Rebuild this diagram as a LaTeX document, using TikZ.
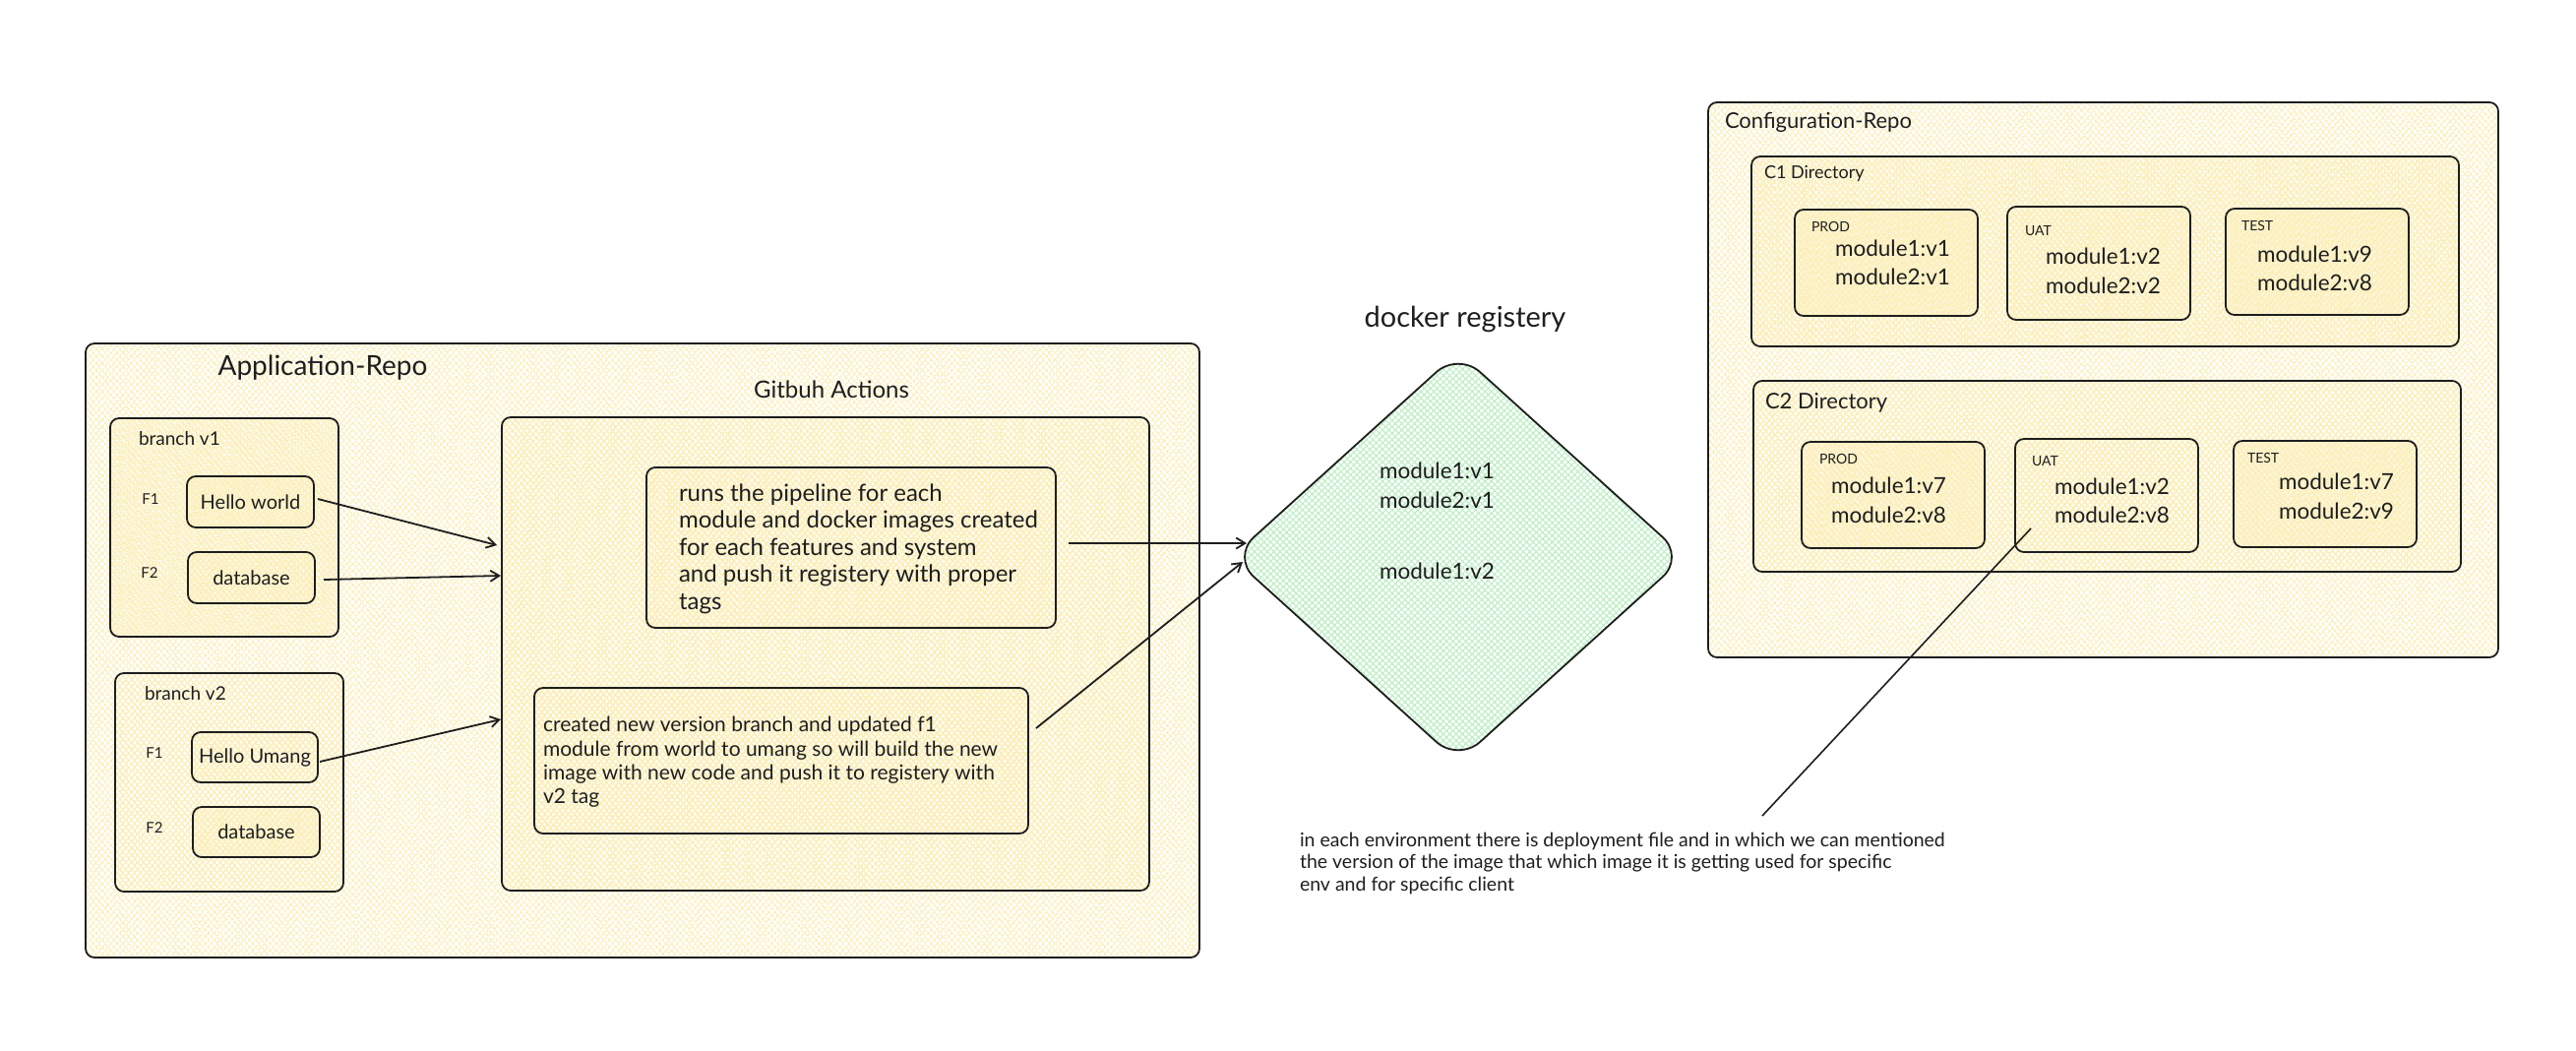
\documentclass[tikz,border=0pt]{standalone}
\usepackage{fontspec}
\setmainfont{Lato}
\usetikzlibrary{arrows.meta,patterns.meta,shapes.geometric}
\definecolor{ink}{HTML}{1E1E1E}
\definecolor{yh}{HTML}{FCEDB0}
\definecolor{gnh}{HTML}{BDEFC4}
\newcommand{\fsz}[2]{\fontsize{#1}{#2}\selectfont}
\begin{document}
\begin{tikzpicture}[x=1pt,y=-1pt,
  yhatch/.style={preaction={pattern={Lines[angle=50,distance=5.4pt,line width=1.3pt]},pattern color=yh},
                 preaction={pattern={Lines[angle=-50,distance=5.4pt,line width=1.3pt]},pattern color=yh}},
  ybox/.style={draw=ink, line width=1.8pt, rounded corners=9pt, inner sep=0pt, outer sep=0pt, text=ink, yhatch},
  lbl/.style={inner sep=0pt, outer sep=0pt, text=ink},
  ml/.style={lbl, align=left, anchor=north west},
  arr/.style={draw=ink, line width=1.8pt, -{Straight Barb[length=9pt,width=11pt]}},
  ln/.style={draw=ink, line width=1.6pt}]
\fill[white] (0,0) rectangle (2618,1068);
\useasboundingbox (0,0) rectangle (2618,1068);

% Application repo
\node[ybox, minimum width=1132pt, minimum height=624pt] (app) at (653,661) {};
\node[lbl, font=\fsz{28}{34}, anchor=mid] (appT) at (328,379) {Application-Repo};

\node[ybox, minimum width=232pt, minimum height=222pt] (bv1) at (228,536) {};
\node[lbl, font=\fsz{19}{23}, anchor=mid west] (bv1T) at (141,450) {branch v1};
\node[lbl, font=\fsz{15}{18}, anchor=mid] (f1a) at (153,510) {F1};
\node[lbl, font=\fsz{15}{18}, anchor=mid] (f2a) at (152,585) {F2};
\node[ybox, minimum width=129pt, minimum height=52pt, font=\fsz{20}{24}] (hw) at (254.5,510) {Hello world};
\node[ybox, minimum width=129pt, minimum height=52pt, font=\fsz{20}{24}] (db1) at (255.5,587) {database};

\node[ybox, minimum width=232pt, minimum height=222pt] (bv2) at (233,795) {};
\node[lbl, font=\fsz{19}{23}, anchor=mid west] (bv2T) at (147,709) {branch v2};
\node[lbl, font=\fsz{15}{18}, anchor=mid] (f1b) at (157,768) {F1};
\node[lbl, font=\fsz{15}{18}, anchor=mid] (f2b) at (157,844) {F2};
\node[ybox, minimum width=128pt, minimum height=51pt, font=\fsz{20}{24}] (hu) at (259,769.5) {Hello Umang};
\node[ybox, minimum width=129pt, minimum height=51pt, font=\fsz{20}{24}] (db2) at (260.5,845.5) {database};

% Github actions
\node[lbl, font=\fsz{24}{29}, anchor=mid] (ghT) at (845,402) {Gitbuh Actions};
\node[ybox, minimum width=658pt, minimum height=481pt] (gh) at (839,664.5) {};
\node[ybox, minimum width=416pt, minimum height=163pt] (pipe) at (865,556.5) {};
\node[ml, font=\fsz{24}{27.5}] (pipeT) at (690,490.2) {\strut runs the pipeline for each\\module and docker images created\\for each features and system\\and push it registery with proper\\tags};
\node[ybox, minimum width=502pt, minimum height=148pt] (cr) at (794,773) {};
\node[ml, font=\fsz{21}{24.3}] (crT) at (552,726.7) {\strut created new version branch and updated f1\\module from world to umang so will build the new\\image with new code and push it to registery with\\v2 tag};

% Registry
\node[lbl, font=\fsz{29}{35}, anchor=mid] (regT) at (1489,330) {docker registery};
\node[diamond, draw=ink, line width=1.8pt, rounded corners=30pt, minimum width=460pt, minimum height=416pt, inner sep=0pt, outer sep=0pt,
  preaction={pattern={Lines[angle=45,distance=4.6pt,line width=1.1pt]},pattern color=gnh},
  preaction={pattern={Lines[angle=-45,distance=4.6pt,line width=1.1pt]},pattern color=gnh}] (reg) at (1482,566) {};
\node[ml, font=\fsz{22.5}{30}] (regA) at (1402,465) {\strut module1:v1\\module2:v1};
\node[lbl, font=\fsz{22.5}{30}, anchor=mid west] (regB) at (1402,586) {module1:v2};

% Arrows
\draw[arr] ([shift={(4pt,3pt)}]hw.east) -- ([shift={(-5pt,110.5pt)}]gh.west);
\draw[arr] ([shift={(9pt,-2pt)}]db1.east) -- ([shift={(-1pt,79.5pt)}]gh.west);
\draw[arr] ([shift={(2pt,-4.5pt)}]hu.east) -- ([shift={(-1pt,-66.5pt)}]gh.west);
\draw[arr] ([shift={(13pt,4.5pt)}]pipe.east) -- ([shift={(15pt,14pt)}]reg.west);
\draw[arr] ([shift={(8pt,33pt)}]cr.east) -- ([shift={(11pt,-5pt)}]reg.west);

% Configuration repo
\node[ybox, minimum width=803pt, minimum height=564pt] (cfg) at (2137.5,386) {};
\node[lbl, font=\fsz{22}{26}, anchor=mid west] (cfgT) at (1753,128) {Configuration-Repo};

\node[ybox, minimum width=719pt, minimum height=193pt] (c1) at (2139.5,255.5) {};
\node[lbl, font=\fsz{18}{22}, anchor=mid west] (c1T) at (1793,179) {C1 Directory};
\node[ybox, minimum width=186pt, minimum height=108pt] (p1) at (1917,267) {};
\node[lbl, font=\fsz{14}{17}, anchor=mid west] (p1T) at (1841,233) {PROD};
\node[ml, font=\fsz{22.5}{29}] (p1M) at (1865,240.6) {\strut module1:v1\\module2:v1};
\node[ybox, minimum width=186pt, minimum height=115pt] (u1) at (2133,267.5) {};
\node[lbl, font=\fsz{14}{17}, anchor=mid west] (u1T) at (2058,237) {UAT};
\node[ml, font=\fsz{22.5}{30}] (u1M) at (2079,247.9) {\strut module1:v2\\module2:v2};
\node[ybox, minimum width=186pt, minimum height=108pt] (t1) at (2355,266) {};
\node[lbl, font=\fsz{14}{17}, anchor=mid west] (t1T) at (2278,232) {TEST};
\node[ml, font=\fsz{22.5}{29}] (t1M) at (2294,246.6) {\strut module1:v9\\module2:v8};

\node[ybox, minimum width=719pt, minimum height=194pt] (c2) at (2141.5,484) {};
\node[lbl, font=\fsz{22}{26}, anchor=mid west] (c2T) at (1794,413) {C2 Directory};
\node[ybox, minimum width=186pt, minimum height=108pt] (p2) at (1924,503) {};
\node[lbl, font=\fsz{14}{17}, anchor=mid west] (p2T) at (1849,469) {PROD};
\node[ml, font=\fsz{22.5}{30}] (p2M) at (1861,480.9) {\strut module1:v7\\module2:v8};
\node[ybox, minimum width=186pt, minimum height=115pt] (u2) at (2141,503.5) {};
\node[lbl, font=\fsz{14}{17}, anchor=mid west] (u2T) at (2065,471) {UAT};
\node[ml, font=\fsz{22.5}{29}] (u2M) at (2088,482.6) {\strut module1:v2\\module2:v8};
\node[ybox, minimum width=186pt, minimum height=108pt] (t2) at (2363,502) {};
\node[lbl, font=\fsz{14}{17}, anchor=mid west] (t2T) at (2284,468) {TEST};
\node[ml, font=\fsz{22.5}{30}] (t2M) at (2316,476.9) {\strut module1:v7\\module2:v9};

% Note
\coordinate (noteEnd) at (1791,829);
\draw[ln] ([shift={(-77pt,-33.5pt)}]u2.center) -- (noteEnd);
\node[ml, font=\fsz{19.5}{22.7}] (note) at (1321,844.2) {\strut in each environment there is deployment file and in which we can mentioned\\the version of the image that which image it is getting used for specific\\env and for specific client};
\end{tikzpicture}
\end{document}
